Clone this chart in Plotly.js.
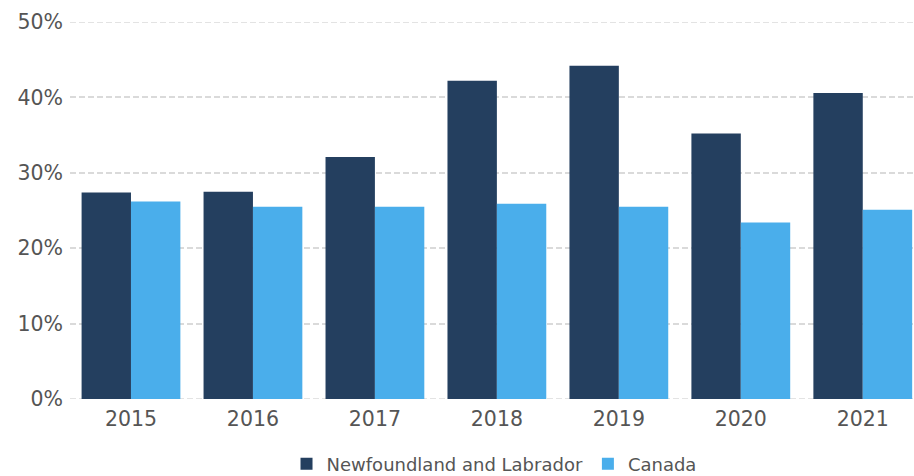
<!DOCTYPE html>
<html><head><meta charset="utf-8">
<script src="https://cdn.plot.ly/plotly-3.0.1.min.js"></script>
<style>html,body{margin:0;padding:0;background:#fff}#chart{width:914px;height:476px}</style>
</head><body><div id="chart"></div>
<script>
const years = ['2015','2016','2017','2018','2019','2020','2021'];
const nlValues = [27.4, 27.5, 32.1, 42.2, 44.2, 35.2, 40.6];
const canadaValues = [26.2, 25.5, 25.5, 25.9, 25.5, 23.4, 25.1];
const seriesNames = ['Newfoundland and Labrador', 'Canada'];
const yTicks = [0, 10, 20, 30, 40, 50];

const font = 'Verdana, "DejaVu Sans", sans-serif';
const gridColor = '#dadada';
const traces = [
  {type:'bar', name:seriesNames[0], x:years, y:nlValues, marker:{color:'#243F5F'}, hovertemplate:'%{y:.1f}%<extra></extra>'},
  {type:'bar', name:seriesNames[1], x:years, y:canadaValues, marker:{color:'#4AAEEB'}, hovertemplate:'%{y:.1f}%<extra></extra>'}
];
const edgeLines = [yTicks[0], yTicks[yTicks.length-1]].map(v => ({
  type:'line', xref:'paper', yref:'y', x0:0, x1:1, y0:v, y1:v, layer:'below',
  line:{color:gridColor, width:1.5, dash:'6px,3px'}
}));
const layout = {
  width:914, height:476,
  margin:{l:70, r:0, t:22, b:77, autoexpand:false},
  barmode:'group', bargap:0.19, bargroupgap:0,
  paper_bgcolor:'#fff', plot_bgcolor:'#fff',
  font:{family:font, color:'#555'},
  xaxis:{type:'category', range:[-0.5, 6.42], showgrid:false, zeroline:false, showline:false,
         ticks:'', tickfont:{size:20.5, color:'#555'}, ticklabelstandoff:5, automargin:false},
  yaxis:{range:[0,50], tickvals:yTicks, ticktext:yTicks.map(v => v + '%'),
         showgrid:true, gridcolor:gridColor, griddash:'6px,3px',
         gridwidth:1.5, zeroline:false, showline:false, tickfont:{size:20.5, color:'#555'}, ticklabelstandoff:6, automargin:false},
  shapes: edgeLines,
  showlegend:true,
  legend:{orientation:'h', x:0.5405, xanchor:'center', xref:'container', yref:'container', y:0.025, yanchor:'middle',
          font:{size:18, color:'#555'}, traceorder:'normal', itemwidth:30}
};
Plotly.newPlot('chart', traces, layout, {displayModeBar:false});
</script></body></html>
